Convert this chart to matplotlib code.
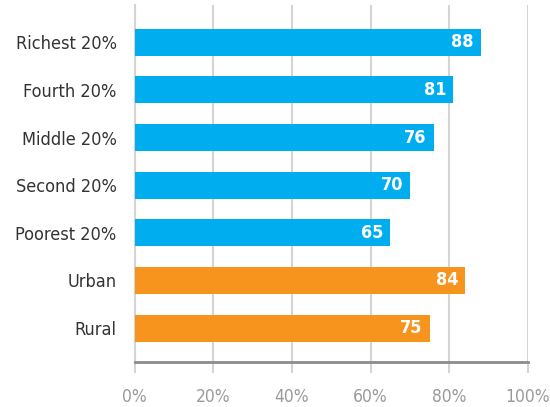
import matplotlib
matplotlib.use("Agg")
import matplotlib.pyplot as plt
from matplotlib.ticker import FuncFormatter

categories = ["Richest 20%", "Fourth 20%", "Middle 20%", "Second 20%",
              "Poorest 20%", "Urban", "Rural"]
values = [88, 81, 76, 70, 65, 84, 75]
groups = ["wealth", "wealth", "wealth", "wealth", "wealth", "area", "area"]
x_ticks = [0, 20, 40, 60, 80, 100]

colors = {"wealth": "#00AEEF", "area": "#F7941D"}
font = ["DejaVu Sans"]

fig = plt.figure(figsize=(5.5, 4.07), dpi=100)
ax = fig.add_axes([0.245, 0.1106, 0.715, 0.877])

n = len(categories)
ypos = [n - 1 - i for i in range(n)]
ax.barh(ypos, values, height=0.57, color=[colors[g] for g in groups], zorder=3)

for y, v in zip(ypos, values):
    ax.text(v - 1.8, y, str(v), ha="right", va="center", color="white",
            fontsize=13, fontweight="bold", family=font, stretch="condensed",
            zorder=4)

ax.set_xlim(0, 100)
ax.set_ylim(-0.71, n - 1 + 0.78)
ax.set_xticks(x_ticks)
ax.xaxis.set_major_formatter(FuncFormatter(lambda v, p: f"{int(v)}%"))
ax.set_yticks(ypos)
ax.set_yticklabels(categories)

ax.grid(axis="x", color="#D4D4D4", linewidth=1.5, zorder=0)
for s in ["top", "right"]:
    ax.spines[s].set_visible(False)
ax.spines["left"].set_color("#D4D4D4")
ax.spines["left"].set_linewidth(1.5)
ax.spines["bottom"].set_color("#8C8C8C")
ax.spines["bottom"].set_linewidth(2)

ax.tick_params(axis="x", length=8, width=1.5, color="#D4D4D4",
               labelcolor="#9A9A9A", labelsize=12.5, pad=11)
ax.tick_params(axis="y", length=0, labelcolor="#333333", labelsize=13, pad=13)
for lbl in ax.get_xticklabels() + ax.get_yticklabels():
    lbl.set_family(font)
    lbl.set_stretch("condensed")
    lbl.set_weight("medium")

fig.savefig("out.png", dpi=100)
